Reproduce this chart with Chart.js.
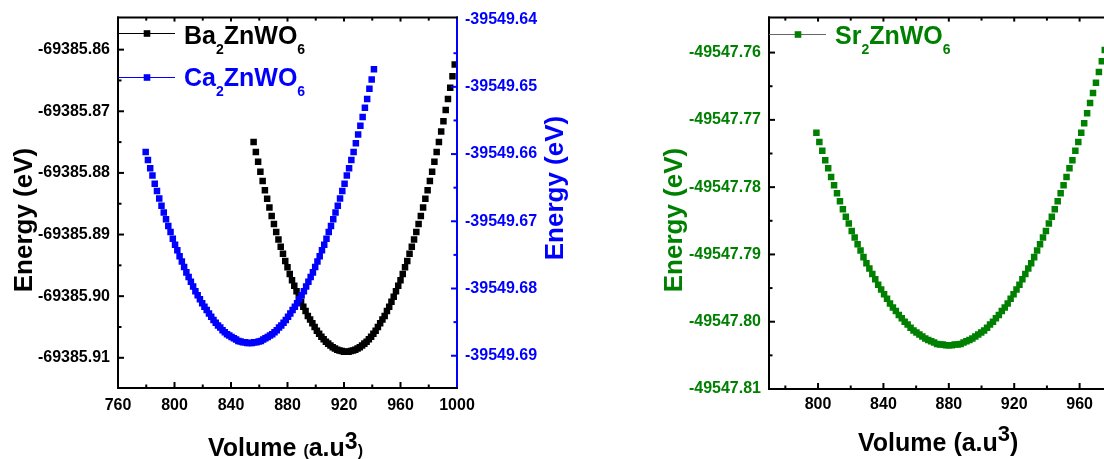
<!DOCTYPE html>
<html lang="fr">
<head>
<meta charset="utf-8">
<title>Energy vs Volume</title>
<script src="https://cdn.jsdelivr.net/npm/chart.js@4.4.0/dist/chart.umd.min.js"></script>
<style>
  html, body { margin: 0; padding: 0; background: #fff; overflow: hidden; width: 1104px; height: 459px; }
  canvas { position: absolute; top: 0; }
  #chart_left { left: 0; }
  #chart_right { left: 640px; }
</style>
</head>
<body>
<canvas id="chart_left" width="600" height="459"></canvas>
<canvas id="chart_right" width="560" height="459"></canvas>
<script>
// Ba2ZnWO6 (axe gauche)
const baVolume = [856.0, 857.6, 859.2, 860.8, 862.4, 864.0, 865.6, 867.2, 868.8, 870.4, 872.0, 873.6, 875.2, 876.8, 878.4, 880.0, 881.6, 883.2, 884.8, 886.4, 888.0, 889.6, 891.2, 892.8, 894.4, 896.0, 897.6, 899.2, 900.8, 902.4, 904.0, 905.6, 907.2, 908.8, 910.4, 912.0, 913.6, 915.2, 916.8, 918.4, 920.0, 921.6, 923.2, 924.8, 926.4, 928.0, 929.6, 931.2, 932.8, 934.4, 936.0, 937.6, 939.2, 940.8, 942.4, 944.0, 945.6, 947.2, 948.8, 950.4, 952.0, 953.6, 955.2, 956.8, 958.4, 960.0, 961.6, 963.2, 964.8, 966.4, 968.0, 969.6, 971.2, 972.8, 974.4, 976.0, 977.6, 979.2, 980.8, 982.4, 984.0, 985.6, 987.2, 988.8, 990.4, 992.0, 993.6, 995.2, 996.8, 998.4];
const baEnergy = [-69385.8750, -69385.8766, -69385.8782, -69385.8798, -69385.8813, -69385.8828, -69385.8842, -69385.8856, -69385.8870, -69385.8883, -69385.8896, -69385.8908, -69385.8920, -69385.8931, -69385.8943, -69385.8953, -69385.8964, -69385.8974, -69385.8983, -69385.8992, -69385.9001, -69385.9009, -69385.9017, -69385.9024, -69385.9032, -69385.9038, -69385.9044, -69385.9050, -69385.9056, -69385.9061, -69385.9066, -69385.9070, -69385.9074, -69385.9077, -69385.9080, -69385.9083, -69385.9085, -69385.9087, -69385.9088, -69385.9089, -69385.9090,
  -69385.9090, -69385.9090, -69385.9089, -69385.9088, -69385.9087, -69385.9085, -69385.9083, -69385.9080, -69385.9077, -69385.9074, -69385.9070, -69385.9066, -69385.9061, -69385.9056, -69385.9050, -69385.9044, -69385.9038, -69385.9032, -69385.9024, -69385.9017, -69385.9009, -69385.9001, -69385.8992, -69385.8983, -69385.8974, -69385.8964, -69385.8953, -69385.8943, -69385.8931, -69385.8920, -69385.8908, -69385.8896, -69385.8883, -69385.8870, -69385.8856, -69385.8842, -69385.8828, -69385.8813, -69385.8798, -69385.8782, -69385.8766, -69385.8750, -69385.8733, -69385.8716, -69385.8698, -69385.8680, -69385.8662, -69385.8643, -69385.8624];

// Ca2ZnWO6 (axe droit, bleu)
const caVolume = [779.6, 781.2, 782.8, 784.4, 786.0, 787.6, 789.2, 790.8, 792.4, 794.0, 795.6, 797.2, 798.8, 800.4, 802.0, 803.6, 805.2, 806.8, 808.4, 810.0, 811.6, 813.2, 814.8, 816.4, 818.0, 819.6, 821.2, 822.8, 824.4, 826.0, 827.6, 829.2, 830.8, 832.4, 834.0, 835.6, 837.2, 838.8, 840.4, 842.0, 843.6, 845.2, 846.8, 848.4, 850.0, 851.6, 853.2, 854.8, 856.4, 858.0, 859.6, 861.2, 862.8, 864.4, 866.0, 867.6, 869.2, 870.8, 872.4, 874.0, 875.6, 877.2, 878.8, 880.4, 882.0, 883.6, 885.2, 886.8, 888.4, 890.0, 891.6, 893.2, 894.8, 896.4, 898.0, 899.6, 901.2, 902.8, 904.4, 906.0, 907.6, 909.2, 910.8, 912.4, 914.0, 915.6, 917.2, 918.8, 920.4, 922.0, 923.6, 925.2, 926.8, 928.4, 930.0, 931.6, 933.2, 934.8, 936.4, 938.0, 939.6, 941.2];
const caEnergy = [-39549.6597, -39549.6609, -39549.6621, -39549.6632, -39549.6644, -39549.6655, -39549.6666, -39549.6677, -39549.6687, -39549.6697, -39549.6707, -39549.6716, -39549.6726, -39549.6735, -39549.6743, -39549.6752, -39549.6760, -39549.6768, -39549.6776, -39549.6783, -39549.6790, -39549.6797, -39549.6804, -39549.6810, -39549.6816, -39549.6822, -39549.6827, -39549.6832, -39549.6837, -39549.6842, -39549.6847, -39549.6851, -39549.6855, -39549.6858, -39549.6862, -39549.6865, -39549.6868, -39549.6870, -39549.6872, -39549.6874, -39549.6876, -39549.6878, -39549.6879, -39549.6880, -39549.6880, -39549.6881,
  -39549.6881, -39549.6881, -39549.6880, -39549.6880, -39549.6879, -39549.6878, -39549.6876, -39549.6874, -39549.6872, -39549.6870, -39549.6868, -39549.6865, -39549.6862, -39549.6858, -39549.6855, -39549.6851, -39549.6847, -39549.6842, -39549.6837, -39549.6832, -39549.6827, -39549.6822, -39549.6816, -39549.6810, -39549.6804, -39549.6797, -39549.6790, -39549.6783, -39549.6776, -39549.6768, -39549.6760, -39549.6752, -39549.6743, -39549.6735, -39549.6726, -39549.6716, -39549.6707, -39549.6697, -39549.6687, -39549.6677, -39549.6666, -39549.6655, -39549.6644, -39549.6632, -39549.6621, -39549.6609, -39549.6597, -39549.6584, -39549.6571, -39549.6558, -39549.6545, -39549.6531, -39549.6518, -39549.6503, -39549.6489, -39549.6474];

// Sr2ZnWO6 (second graphique)
const srVolume = [799.0, 800.8, 802.6, 804.4, 806.2, 808.0, 809.8, 811.6, 813.4, 815.2, 817.0, 818.8, 820.6, 822.4, 824.2, 826.0, 827.8, 829.6, 831.4, 833.2, 835.0, 836.8, 838.6, 840.4, 842.2, 844.0, 845.8, 847.6, 849.4, 851.2, 853.0, 854.8, 856.6, 858.4, 860.2, 862.0, 863.8, 865.6, 867.4, 869.2, 871.0, 872.8, 874.6, 876.4, 878.2, 880.0, 881.8, 883.6, 885.4, 887.2, 889.0, 890.8, 892.6, 894.4, 896.2, 898.0, 899.8, 901.6, 903.4, 905.2, 907.0, 908.8, 910.6, 912.4, 914.2, 916.0, 917.8, 919.6, 921.4, 923.2, 925.0, 926.8, 928.6, 930.4, 932.2, 934.0, 935.8, 937.6, 939.4, 941.2, 943.0, 944.8, 946.6, 948.4, 950.2, 952.0, 953.8, 955.6, 957.4, 959.2, 961.0, 962.8, 964.6, 966.4, 968.2, 970.0, 971.8, 973.6, 975.4];
const srEnergy = [-49547.7719, -49547.7733, -49547.7746, -49547.7760, -49547.7772, -49547.7785, -49547.7797, -49547.7809, -49547.7821, -49547.7833, -49547.7844, -49547.7854, -49547.7865, -49547.7875, -49547.7885, -49547.7894, -49547.7904, -49547.7913, -49547.7921, -49547.7929, -49547.7937, -49547.7945, -49547.7952, -49547.7959, -49547.7966, -49547.7973, -49547.7979, -49547.7984, -49547.7990, -49547.7995, -49547.8000, -49547.8004, -49547.8009, -49547.8013, -49547.8016, -49547.8019, -49547.8022, -49547.8025, -49547.8027, -49547.8029, -49547.8031, -49547.8033, -49547.8034, -49547.8034, -49547.8035,
  -49547.8035, -49547.8035, -49547.8034, -49547.8034, -49547.8033, -49547.8031, -49547.8029, -49547.8027, -49547.8025, -49547.8022, -49547.8019, -49547.8016, -49547.8013, -49547.8009, -49547.8004, -49547.8000, -49547.7995, -49547.7990, -49547.7984, -49547.7979, -49547.7973, -49547.7966, -49547.7959, -49547.7952, -49547.7945, -49547.7937, -49547.7929, -49547.7921, -49547.7913, -49547.7904, -49547.7894, -49547.7885, -49547.7875, -49547.7865, -49547.7854, -49547.7844, -49547.7833, -49547.7821, -49547.7809, -49547.7797, -49547.7785, -49547.7772, -49547.7760, -49547.7746, -49547.7733, -49547.7719, -49547.7705, -49547.7690, -49547.7675, -49547.7660, -49547.7645, -49547.7629, -49547.7613, -49547.7596];

// graduations
const leftVolumeTicks = [760, 800, 840, 880, 920, 960, 1000];
const rightVolumeTicks = [800, 840, 880, 920, 960, 1000];
const baEnergyTicks = [-69385.86, -69385.87, -69385.88, -69385.89, -69385.90, -69385.91];
const caEnergyTicks = [-39549.64, -39549.65, -39549.66, -39549.67, -39549.68, -39549.69];
const srEnergyTicks = [-49547.76, -49547.77, -49547.78, -49547.79, -49547.80, -49547.81];

const FONT = "'Liberation Sans', Arial, sans-serif";
const BLUE = '#0000ff';
const GREEN = '#008000';
const tickFont = { family: FONT, size: 16, weight: 'bold' };

function points(xs, ys) {
  return xs.map((v, i) => ({ x: v, y: ys[i] }));
}

// texte avec indices / exposants
function drawRich(ctx, parts, x, y, align) {
  let total = 0;
  parts.forEach(p => {
    ctx.font = 'bold ' + p.size + 'px ' + FONT;
    p.w = ctx.measureText(p.t).width;
    total += p.w;
  });
  let cx = align === 'center' ? x - total / 2 : x;
  parts.forEach(p => {
    ctx.font = 'bold ' + p.size + 'px ' + FONT;
    ctx.fillText(p.t, cx, y + (p.dy || 0));
    cx += p.w;
  });
}

// cadre, graduations intérieures, titres et légende
const cadrePlugin = {
  id: 'cadre',
  afterDatasetsDraw(chart, args, opts) {
    const ctx = chart.ctx;
    const area = chart.chartArea;
    ctx.save();
    ctx.lineWidth = 2;
    opts.sides.forEach(side => {
      const scale = chart.scales[side.scale];
      const vertical = side.edge === 'left' || side.edge === 'right';
      ctx.strokeStyle = side.color;
      ctx.beginPath();
      if (vertical) {
        const x0 = side.edge === 'left' ? area.left : area.right;
        ctx.moveTo(x0, area.top - 1);
        ctx.lineTo(x0, area.bottom + 1);
      } else {
        const y0 = side.edge === 'top' ? area.top : area.bottom;
        ctx.moveTo(area.left - 1, y0);
        ctx.lineTo(area.right + 1, y0);
      }
      ctx.stroke();

      const major = scale.ticks.map(t => t.value);
      const step = major[1] - major[0];
      const minor = major.map(v => v - step / 2).concat([major[major.length - 1] + step / 2]);
      const lo = vertical ? area.top + 3 : area.left + 3;
      const hi = vertical ? area.bottom - 3 : area.right - 3;

      function tick(v, len) {
        const p = scale.getPixelForValue(v);
        if (p < lo || p > hi) return;
        ctx.beginPath();
        if (side.edge === 'left') { ctx.moveTo(area.left, p); ctx.lineTo(area.left + len, p); }
        if (side.edge === 'right') { ctx.moveTo(area.right, p); ctx.lineTo(area.right - len, p); }
        if (side.edge === 'bottom') { ctx.moveTo(p, area.bottom); ctx.lineTo(p, area.bottom - len); }
        if (side.edge === 'top') { ctx.moveTo(p, area.top); ctx.lineTo(p, area.top + len); }
        ctx.stroke();
      }
      major.forEach(v => tick(v, side.major));
      minor.forEach(v => tick(v, side.minor));
    });

    // légende
    opts.legend.forEach(item => {
      ctx.strokeStyle = item.lineColor;
      ctx.lineWidth = 1;
      ctx.beginPath();
      ctx.moveTo(area.left, item.y);
      ctx.lineTo(area.left + 57, item.y);
      ctx.stroke();
      ctx.fillStyle = item.color;
      ctx.fillRect(area.left + 29 - 3.3, item.y - 3.3, 6.6, 6.6);
      ctx.textAlign = 'left';
      ctx.textBaseline = 'alphabetic';
      drawRich(ctx, item.parts, area.left + 66, item.base, 'left');
    });

    // titres des axes
    opts.titles.forEach(t => {
      ctx.save();
      ctx.fillStyle = t.color;
      ctx.textAlign = 'left';
      ctx.textBaseline = 'alphabetic';
      ctx.translate(t.x, t.y);
      if (t.rotate) ctx.rotate(-Math.PI / 2);
      drawRich(ctx, t.parts, 0, 0, t.align);
      ctx.restore();
    });
    ctx.restore();
  }
};

function sub(t) { return { t: t, size: 14, dy: 10 }; }
function big(t) { return { t: t, size: 25 }; }

function yScale(min, max, ticks, position, color, width) {
  return {
    type: 'linear', position: position, min: min, max: max,
    afterBuildTicks: s => { s.ticks = ticks.map(v => ({ value: v })); },
    afterFit: s => { s.width = width; },
    grid: { display: false, drawTicks: false },
    border: { display: false },
    ticks: { autoSkip: false, padding: 8, color: color, font: tickFont, callback: v => v.toFixed(2) }
  };
}

function xScale(min, max, ticks, height, pad) {
  return {
    type: 'linear', position: 'bottom', min: min, max: max,
    afterBuildTicks: s => { s.ticks = ticks.map(v => ({ value: v })); },
    afterFit: s => { s.height = height; },
    grid: { display: false, drawTicks: false },
    border: { display: false },
    ticks: { autoSkip: false, maxRotation: 0, padding: pad, color: '#000', font: tickFont, callback: v => String(v) }
  };
}

// graphique de gauche : Ba2ZnWO6 et Ca2ZnWO6
new Chart(document.getElementById('chart_left'), {
  type: 'scatter',
  data: {
    datasets: [
      { label: 'Ba2ZnWO6', data: points(baVolume, baEnergy), yAxisID: 'y', order: 2,
        backgroundColor: '#000', pointStyle: 'rect', pointRadius: 4.6, pointBorderWidth: 0, borderWidth: 0, showLine: false },
      { label: 'Ca2ZnWO6', data: points(caVolume, caEnergy), yAxisID: 'y1', order: 1,
        backgroundColor: BLUE, pointStyle: 'rect', pointRadius: 4.6, pointBorderWidth: 0, borderWidth: 0, showLine: false }
    ]
  },
  options: {
    responsive: false, animation: false, events: [],
    layout: { padding: { top: 16, left: 0, right: 0, bottom: 0 } },
    scales: {
      x: xScale(760, 1000, leftVolumeTicks, 71, 8),
      y: yScale(-69385.9149, -69385.8548, baEnergyTicks, 'left', '#000', 118),
      y1: yScale(-39549.6948, -39549.6397, caEnergyTicks, 'right', BLUE, 143)
    },
    plugins: {
      legend: { display: false },
      tooltip: { enabled: false },
      cadre: {
        sides: [
          { scale: 'y', edge: 'left', color: '#000', major: 6, minor: 3.5 },
          { scale: 'y1', edge: 'right', color: BLUE, major: 6, minor: 3.5 },
          { scale: 'x', edge: 'bottom', color: '#000', major: 6, minor: 3.5 },
          { scale: 'x', edge: 'top', color: '#000', major: 4, minor: 3 }
        ],
        legend: [
          { y: 33.5, base: 43.5, lineColor: '#000', color: '#000', parts: [big('Ba'), sub('2'), big('ZnWO'), sub('6')] },
          { y: 77.5, base: 86, lineColor: BLUE, color: BLUE, parts: [big('Ca'), sub('2'), big('ZnWO'), sub('6')] }
        ],
        titles: [
          { x: 32, y: 220, rotate: true, align: 'center', color: '#000', parts: [{ t: 'Energy (eV)', size: 26 }] },
          { x: 563, y: 188, rotate: true, align: 'center', color: BLUE, parts: [{ t: 'Energy (eV)', size: 26 }] },
          { x: 208, y: 456, rotate: false, align: 'left', color: '#000',
            parts: [{ t: 'Volume ', size: 25 }, { t: '(', size: 16 }, { t: 'a.u', size: 25 }, { t: '3', size: 23, dy: -7 }, { t: ')', size: 16 }] }
        ]
      }
    }
  },
  plugins: [cadrePlugin]
});

// graphique de droite : Sr2ZnWO6
new Chart(document.getElementById('chart_right'), {
  type: 'scatter',
  data: {
    datasets: [
      { label: 'Sr2ZnWO6', data: points(srVolume, srEnergy), yAxisID: 'y',
        backgroundColor: GREEN, pointStyle: 'rect', pointRadius: 4.6, pointBorderWidth: 0, borderWidth: 0, showLine: false }
    ]
  },
  options: {
    responsive: false, animation: false, events: [],
    layout: { padding: { top: 16, left: 0, right: 55, bottom: 0 } },
    scales: {
      x: xScale(770, 1000, rightVolumeTicks, 70, 6),
      y: yScale(-49547.81, -49547.7548, srEnergyTicks, 'left', GREEN, 129)
    },
    plugins: {
      legend: { display: false },
      tooltip: { enabled: false },
      cadre: {
        sides: [
          { scale: 'y', edge: 'left', color: '#000', major: 6, minor: 3.5 },
          { scale: 'x', edge: 'bottom', color: '#000', major: 6, minor: 3.5 },
          { scale: 'x', edge: 'top', color: '#000', major: 4, minor: 3 }
        ],
        legend: [
          { y: 34.5, base: 43.5, lineColor: '#666', color: GREEN, parts: [big('Sr'), sub('2'), big('ZnWO'), sub('6')] }
        ],
        titles: [
          { x: 42, y: 220, rotate: true, align: 'center', color: GREEN, parts: [{ t: 'Energy (eV)', size: 26 }] },
          { x: 218, y: 451, rotate: false, align: 'left', color: '#000',
            parts: [{ t: 'Volume (a.u', size: 25 }, { t: '3', size: 22, dy: -10 }, { t: ')', size: 25 }] }
        ]
      }
    }
  },
  plugins: [cadrePlugin]
});
</script>
</body>
</html>
